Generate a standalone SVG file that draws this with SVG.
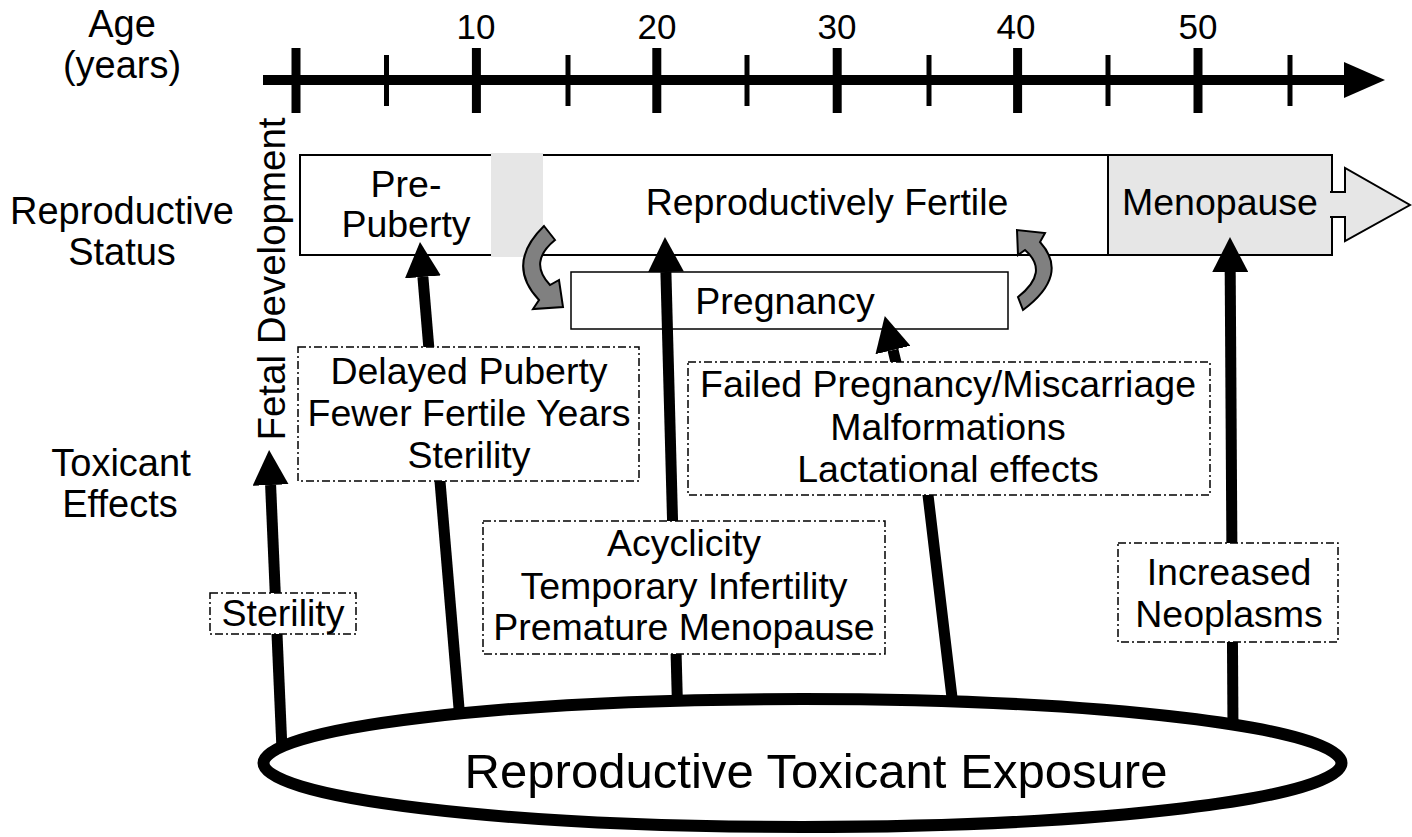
<svg xmlns="http://www.w3.org/2000/svg" width="1412" height="837" viewBox="0 0 1412 837">
<defs>
<style>
text { font-family: "Liberation Sans", Arial, Helvetica, sans-serif; fill: #000; }
.t { font-size: 37.5px; text-anchor: middle; }
.lbl { font-size: 38px; text-anchor: middle; }
.num { font-size: 35px; text-anchor: middle; }
.box { fill: #fff; stroke: #000; stroke-width: 2; }
.gray { fill: #e6e6e6; stroke: #000; stroke-width: 2; }
.eff { fill: #fff; stroke: #000; stroke-width: 1.5; stroke-dasharray: 8 3 2 3; }
.conn { fill: none; stroke: #000; stroke-width: 11; }
.curve { fill: #808080; stroke: #000; stroke-width: 2; }
.major { stroke: #000; stroke-width: 9; }
.minor { stroke: #000; stroke-width: 5; }
</style>
<marker id="ah" markerUnits="userSpaceOnUse" markerWidth="36" markerHeight="36" refX="0" refY="18" orient="auto">
<path d="M0,0 L35,18 L0,36 z" fill="#000"/>
</marker>
</defs>
<rect x="0" y="0" width="1412" height="837" fill="#fff"/>

<g id="row-labels">
<text class="lbl" x="122" y="37">Age</text>
<text class="lbl" x="122" y="78">(years)</text>
<text class="lbl" x="122" y="224">Reproductive</text>
<text class="lbl" x="122" y="265">Status</text>
<text class="lbl" x="121" y="476">Toxicant</text>
<text class="lbl" x="120" y="517">Effects</text>
</g>

<g id="age-axis">
<line x1="263" y1="80" x2="1348" y2="80" stroke="#000" stroke-width="10"/>
<polygon points="1344,62 1385,80 1344,98" fill="#000"/>
<line class="major" x1="296" y1="48" x2="296" y2="113"/>
<line class="major" x1="476.4" y1="48" x2="476.4" y2="113"/>
<line class="major" x1="656.8" y1="48" x2="656.8" y2="113"/>
<line class="major" x1="837.2" y1="48" x2="837.2" y2="113"/>
<line class="major" x1="1017.6" y1="48" x2="1017.6" y2="113"/>
<line class="major" x1="1198" y1="48" x2="1198" y2="113"/>
<line class="minor" x1="386.5" y1="55" x2="386.5" y2="106"/>
<line class="minor" x1="568" y1="55" x2="568" y2="106"/>
<line class="minor" x1="747" y1="55" x2="747" y2="106"/>
<line class="minor" x1="929" y1="55" x2="929" y2="106"/>
<line class="minor" x1="1108" y1="55" x2="1108" y2="106"/>
<line class="minor" x1="1290" y1="55" x2="1290" y2="106"/>
<text class="num" x="476" y="39">10</text>
<text class="num" x="657" y="39">20</text>
<text class="num" x="837" y="39">30</text>
<text class="num" x="1016" y="39">40</text>
<text class="num" x="1198" y="39">50</text>
</g>

<g id="fetal-development">
<text class="t" transform="translate(285,279) rotate(-90)" style="font-size:38.5px">Fetal Development</text>
</g>

<g id="pre-puberty">
<rect class="box" x="300" y="155" width="192" height="100"/>
<text class="t" x="406" y="197">Pre-</text>
<text class="t" x="406" y="237">Puberty</text>
</g>

<g id="reproductively-fertile">
<rect class="box" x="492" y="155" width="616" height="100"/>
<text class="t" x="827" y="215">Reproductively Fertile</text>
</g>

<g id="puberty-transition">
<rect x="491" y="153" width="52" height="104" fill="#e6e6e6"/>
</g>

<g id="menopause">
<rect class="gray" x="1108" y="155" width="224" height="100"/>
<path d="M1330,192 L1345,192 L1345,168 L1410,205 L1345,241 L1345,217 L1330,217" fill="#e6e6e6" stroke="#000" stroke-width="2"/>
<text class="t" x="1220" y="215">Menopause</text>
</g>

<g id="pregnancy">
<rect class="box" x="571" y="272" width="437" height="57" style="stroke-width:1.5"/>
<text class="t" x="785" y="314">Pregnancy</text>
</g>

<g id="cycle-arrow-in">
<path class="curve" d="M544,226 L555,240 Q528,262 550,285 L559,280 L563,307 L533,309 L539,300 Q505,264 544,226 Z"/>
</g>

<g id="cycle-arrow-out">
<path class="curve" d="M1018,297 Q1050,272 1025,250 L1018,255 L1017,230 L1045,233 L1040,242 Q1070,275 1023,310 Z"/>
</g>

<g id="connectors">
<path class="conn" d="M282,750 L270.6,485" marker-end="url(#ah)"/>
<path class="conn" d="M460,720 L422.9,276.9" marker-end="url(#ah)"/>
<path class="conn" d="M677.5,706 L665.9,272" marker-end="url(#ah)"/>
<path class="conn" d="M953,706 L928,495 L893,350" marker-end="url(#ah)"/>
<path class="conn" d="M1233,730 L1230.2,272" marker-end="url(#ah)"/>
</g>

<g id="effect-fetal-sterility">
<rect class="eff" x="210" y="593" width="146" height="41"/>
<text class="t" x="283" y="626">Sterility</text>
</g>

<g id="effect-puberty">
<rect class="eff" x="298" y="347" width="341" height="134"/>
<text class="t" x="469" y="384">Delayed Puberty</text>
<text class="t" x="469" y="426">Fewer Fertile Years</text>
<text class="t" x="469" y="468">Sterility</text>
</g>

<g id="effect-pregnancy">
<rect class="eff" x="688" y="362" width="522" height="133"/>
<text class="t" x="948" y="397">Failed Pregnancy/Miscarriage</text>
<text class="t" x="948" y="440">Malformations</text>
<text class="t" x="948" y="482">Lactational effects</text>
</g>

<g id="effect-cycle">
<rect class="eff" x="483" y="521" width="402" height="133"/>
<text class="t" x="684" y="556">Acyclicity</text>
<text class="t" x="684" y="599">Temporary Infertility</text>
<text class="t" x="684" y="640">Premature Menopause</text>
</g>

<g id="effect-neoplasms">
<rect class="eff" x="1118" y="543" width="220" height="99"/>
<text class="t" x="1229" y="585">Increased</text>
<text class="t" x="1229" y="627">Neoplasms</text>
</g>

<g id="exposure">
<ellipse cx="802.5" cy="763" rx="539" ry="64" fill="#fff" stroke="#000" stroke-width="12"/>
<text x="816" y="788" text-anchor="middle" style="font-size:48px" textLength="703" lengthAdjust="spacingAndGlyphs">Reproductive Toxicant Exposure</text>
</g>
</svg>
